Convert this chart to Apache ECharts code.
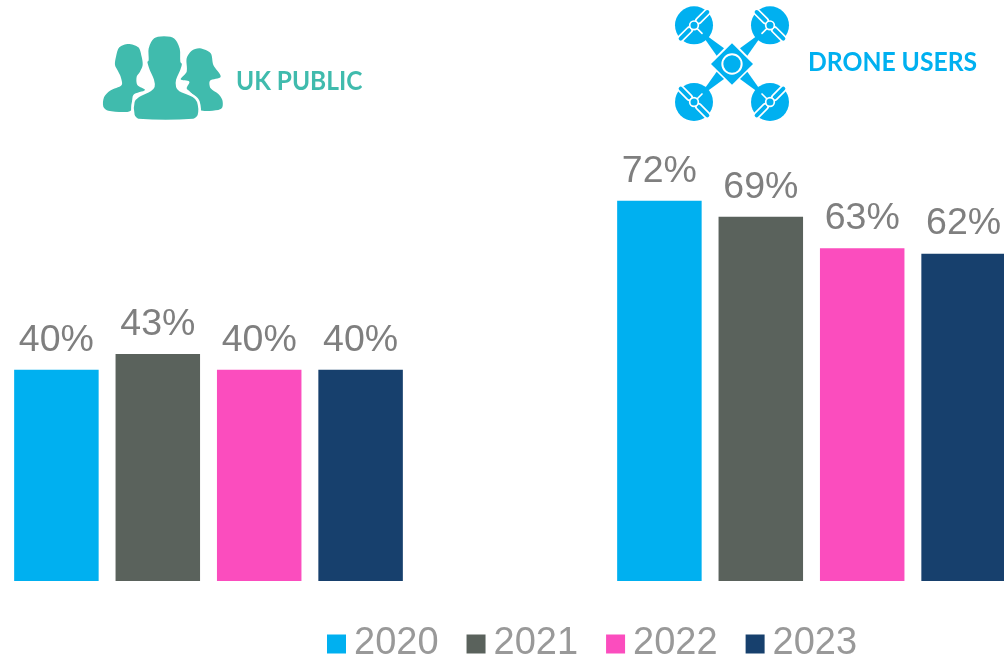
<!DOCTYPE html>
<html lang="en">

<head>
    <meta charset="UTF-8">
    <title>UK public and drone users</title>
    <script src="https://cdn.jsdelivr.net/npm/echarts@6/dist/echarts.min.js"></script>
    <style>
        html, body { margin: 0; padding: 0; background: #fff; }
        #echart { width: 1004px; height: 659px; }
    </style>
</head>

<body>
    <div id="echart"></div>

    <script>
        const categories = ['UK PUBLIC', 'DRONE USERS'];
        const years = ['2020', '2021', '2022', '2023'];
        const values2020 = [40, 72];
        const values2021 = [43, 69];
        const values2022 = [40, 63];
        const values2023 = [40, 62];
        const allValues = [values2020, values2021, values2022, values2023];
        const colors = ['#00b0f0', '#5a625c', '#fb4dbe', '#17406d'];

        const TEAL = '#40bbad', BLUE = '#00b0f0';

        // icons: points are in 3x zoomed px, the group scales them down
        const personLeft = [[115,72],[145,82],[155,110],[158,135],[150,155],[140,170],[142,195],[165,210],[130,225],[122,272],[55,272],[40,260],[42,232],[60,212],[95,195],[92,170],[85,155],[75,135],[78,110],[88,82]];
        const personRight = [[330,85],[362,100],[370,135],[392,170],[360,182],[362,205],[385,222],[397,240],[397,262],[385,270],[330,270],[325,240],[300,215],[290,205],[298,185],[272,178],[290,155],[290,115],[305,92]];
        const personMid = [[222,45],[255,52],[273,85],[275,125],[280,130],[275,150],[262,180],[262,200],[270,210],[310,228],[325,245],[327,285],[310,300],[145,300],[130,285],[130,245],[145,228],[180,210],[190,200],[188,180],[175,150],[168,125],[172,120],[172,85],[190,52]];

        const poly = (points, fill, stroke, lw, smooth) => ({
            type: 'polygon',
            shape: { points, smooth: smooth || 0 },
            style: { fill, stroke: stroke || null, lineWidth: lw || 0 }
        });
        const line = (x1, y1, x2, y2, stroke, lw) => ({
            type: 'line',
            shape: { x1, y1, x2, y2 },
            style: { stroke, lineWidth: lw, lineCap: 'round' }
        });
        const circle = (cx, cy, r, fill, stroke, lw) => ({
            type: 'circle',
            shape: { cx, cy, r },
            style: { fill, stroke: stroke || null, lineWidth: lw || 0 }
        });

        const droneParts = [];
        [[-1, -1], [1, -1], [-1, 1], [1, 1]].forEach(([sx, sy]) => {
            const cx = 216 + sx * 114, cy = 191 + sy * 115;
            droneParts.push(circle(cx, cy, 57, BLUE));
            // arm
            droneParts.push(poly([[cx - sx * 12, cy - sy * 12], [216 + sx * 46, 191 + sy * 24], [216 + sx * 24, 191 + sy * 46]], BLUE));
            droneParts.push(line(cx - sx * 6, cy - sy * 6, cx - sx * 24, cy - sy * 24, '#fff', 5));
            // blades, across the arm
            [[1, -1], [-1, 1]].forEach(([bx, by]) => {
                const dx = bx * sx * sy, dy = by;
                droneParts.push(line(cx + dx * 14, cy + dy * 14, cx + dx * 40, cy + dy * 40, '#fff', 22));
                droneParts.push(line(cx + dx * 14, cy + dy * 14, cx + dx * 40, cy + dy * 40, BLUE, 12));
            });
            droneParts.push(circle(cx, cy, 13, BLUE, '#fff', 5));
        });
        droneParts.push(poly([[216, 130], [279, 192], [216, 254], [153, 192]], BLUE));
        droneParts.push(circle(216, 192, 29, BLUE, '#fff', 6));

        const dom = document.querySelector('#echart');
        const myChart = echarts.init(dom);

        const option = {
            animation: false,
            backgroundColor: '#fff',
            // grid runs past the window so the groups sit where they do in the picture
            grid: { left: -93, width: 1206, top: 53, height: 528, outerBoundsMode: 'none' },
            xAxis: {
                type: 'category',
                data: categories,
                show: false
            },
            yAxis: {
                type: 'value',
                min: 0,
                max: 100,
                show: false
            },
            legend: {
                data: years,
                left: 327,
                top: 625,
                padding: 0,
                icon: 'rect',
                itemWidth: 19,
                itemHeight: 19,
                itemGap: 28,
                textStyle: {
                    color: '#999999',
                    fontFamily: 'Liberation Sans',
                    fontSize: 38,
                    padding: [4, 0, 0, 3]
                }
            },
            series: years.map((year, i) => ({
                type: 'bar',
                name: year,
                data: allValues[i],
                barWidth: 84.5,
                barGap: '20%',
                itemStyle: { color: colors[i] },
                label: {
                    show: true,
                    position: 'top',
                    distance: 10.5,
                    formatter: '{c}%',
                    color: '#7f7f7f',
                    fontFamily: 'Liberation Sans',
                    fontSize: 37.5
                }
            })),
            graphic: {
                elements: [
                    {
                        type: 'group',
                        x: 90,
                        y: 20,
                        scaleX: 1 / 3,
                        scaleY: 1 / 3,
                        children: [
                            poly(personLeft, TEAL, null, 0, 0.3),
                            poly(personRight, TEAL, null, 0, 0.3),
                            poly(personMid, TEAL, '#fff', 8, 0.3)
                        ]
                    },
                    {
                        type: 'group',
                        x: 660,
                        y: 0,
                        scaleX: 1 / 3,
                        scaleY: 1 / 3,
                        children: droneParts
                    },
                    {
                        type: 'text',
                        x: 236,
                        y: 69,
                        scaleX: 0.94,
                        style: {
                            text: categories[0],
                            fill: TEAL,
                            font: 'bold 26px Lato'
                        }
                    },
                    {
                        type: 'text',
                        x: 808,
                        y: 50,
                        scaleX: 0.95,
                        style: {
                            text: categories[1],
                            fill: BLUE,
                            font: 'bold 26px Lato'
                        }
                    }
                ]
            }
        };
        myChart.setOption(option);
    </script>
</body>

</html>
